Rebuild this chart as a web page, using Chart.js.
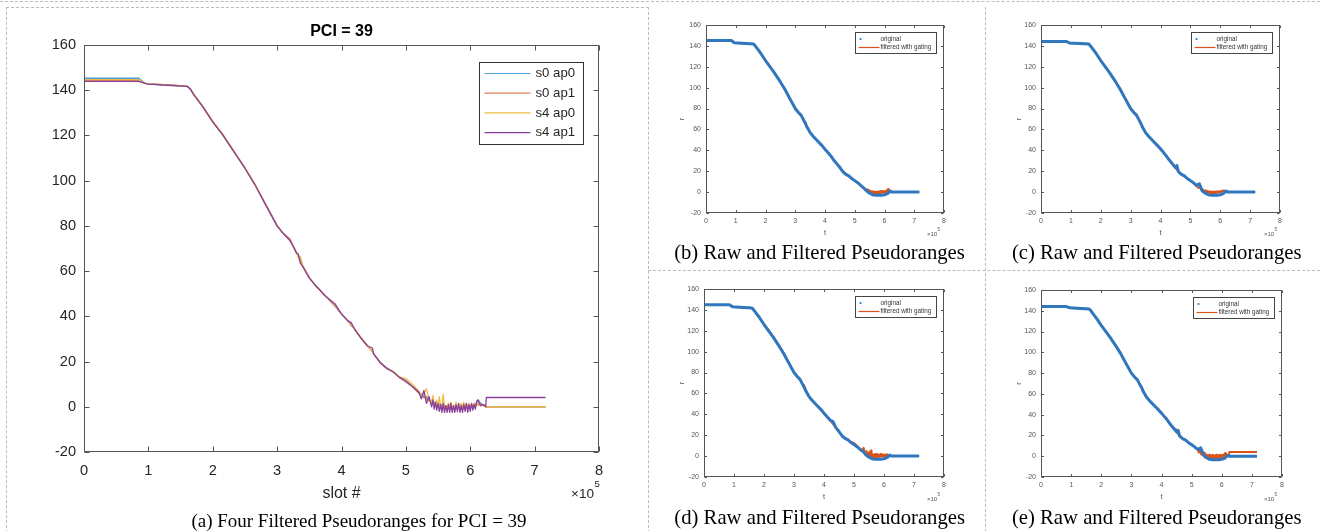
<!DOCTYPE html>
<html>
<head>
<meta charset="utf-8">
<script src="https://cdn.jsdelivr.net/npm/chart.js@4.4.0/dist/chart.umd.min.js"></script>
<style>
  html, body { margin: 0; padding: 0; background: #fff; }
  #fig { position: relative; width: 1320px; height: 531px; overflow: hidden; }
  canvas { position: absolute; }
  .dash { position: absolute; border-style: dashed; border-color: #bcbcbc; border-width: 0; }
  .cap { position: absolute; font-family: "Liberation Serif", "Times New Roman", serif; line-height: 1; white-space: nowrap; color: #000; transform: translateX(-50%); }
  .exp { position: absolute; font-family: "Liberation Sans", Arial, sans-serif; line-height: 1; color: #262626; white-space: nowrap; }
</style>
</head>
<body>
<div id="fig">
  <div class="dash" style="left:0;top:1px;width:1320px;border-top-width:1px"></div>
  <div class="dash" style="left:6px;top:7px;width:641px;height:530px;border-width:1px 1px 0 1px"></div>
  <div class="dash" style="left:985px;top:7px;height:530px;border-left-width:1px"></div>
  <div class="dash" style="left:648px;top:270px;width:672px;border-top-width:1px"></div>

  <canvas id="chartA" width="648" height="531" style="left:0;top:0"></canvas>
  <canvas id="chartB" width="337" height="270" style="left:648px;top:0"></canvas>
  <canvas id="chartC" width="335" height="270" style="left:985px;top:0"></canvas>
  <canvas id="chartD" width="337" height="261" style="left:648px;top:270px"></canvas>
  <canvas id="chartE" width="335" height="261" style="left:985px;top:270px"></canvas>

  <span class="exp" style="left:571px;top:486.5px;font-size:13.5px">&times;10</span>
  <span class="exp" style="left:594.5px;top:478.5px;font-size:9.5px">5</span>
  <span class="exp" style="left:927px;top:231px;font-size:6px;color:#555">&times;10</span>
  <span class="exp" style="left:937.5px;top:227.5px;font-size:4.5px;color:#555">5</span>
  <span class="exp" style="left:1264px;top:231px;font-size:6px;color:#555">&times;10</span>
  <span class="exp" style="left:1274.5px;top:227.5px;font-size:4.5px;color:#555">5</span>
  <span class="exp" style="left:927px;top:496px;font-size:6px;color:#555">&times;10</span>
  <span class="exp" style="left:937.5px;top:492.5px;font-size:4.5px;color:#555">5</span>
  <span class="exp" style="left:1264px;top:496px;font-size:6px;color:#555">&times;10</span>
  <span class="exp" style="left:1274.5px;top:492.5px;font-size:4.5px;color:#555">5</span>

  <div class="cap" style="left:359px;top:510.6px;font-size:19px">(a) Four Filtered Pseudoranges for PCI = 39</div>
  <div class="cap" style="left:819.5px;top:241.7px;font-size:20.7px">(b) Raw and Filtered Pseudoranges</div>
  <div class="cap" style="left:1156.7px;top:241.7px;font-size:20.7px">(c) Raw and Filtered Pseudoranges</div>
  <div class="cap" style="left:819.7px;top:506.7px;font-size:20.7px">(d) Raw and Filtered Pseudoranges</div>
  <div class="cap" style="left:1156.7px;top:506.7px;font-size:20.7px">(e) Raw and Filtered Pseudoranges</div>
</div>

<script>
// slot numbers shared by the four filtered series
const slots = [0, 85000, 90000, 95000, 100000, 130000, 160000, 165000, 170000, 185000,
  200000, 215000, 230000, 250000, 265000, 280000, 300000, 310000, 320000, 325000,
  330000, 333000, 336000, 340000, 350000, 360000, 375000, 390000, 400000, 410000,
  415000, 420000, 430000, 440000, 448000, 450000, 460000, 470000, 480000, 490000,
  500000, 510000,
  520000, 524000, 528000, 532000, 536000, 540000,
  542000, 544000, 546000, 548000, 550000, 552000, 554000, 556000, 558000, 560000,
  562000, 564000, 566000, 568000, 570000, 572000, 574000, 576000, 578000, 580000,
  582000, 584000, 586000, 588000, 590000, 592000, 594000, 596000, 598000, 600000,
  602000, 604000, 606000, 608000, 610000, 612000, 614000, 616000,
  620000, 624000,
  625000, 717000];

const s0ap0 = [145.3, 145.3, 144.2, 143.1, 142.8, 142.3, 141.8, 140.6, 138.3, 132.5,
  126, 120.5, 114.1, 105.5, 98.5, 90.5, 80, 76.5, 73.5, 71,
  68, 66.5, 64.5, 62, 57, 53.5, 49, 44.5, 41, 38,
  36, 34.5, 30.5, 27, 24.5, 23.5, 19.8, 17.3, 15.5, 13,
  11, 9,
  6.5, 5.5, 4.5, 3.5, 3, 2,
  2.5, 1.5, 2, 1, 1.5, 0.5, 1, 0, 0.5, -0.5,
  0.5, -1, 0, -1, 0.5, -1, 0, -1, 0.5, -0.5,
  0.5, -1, 1, -0.5, 0.5, -0.5, 1, 0, 0.5, -0.5,
  1, 0, 1.5, 0.5, 2, 3, 2.5, 1.5,
  1, 0,
  0, 0];

const s0ap1 = [144.2, 144.2, 143.6, 143.0, 142.8, 142.3, 141.8, 140.6, 138.3, 132.5,
  126, 120.5, 114.1, 105.5, 98.5, 90.5, 80, 76.5, 74.3, 71,
  68.5, 66.5, 64.5, 62, 57, 53.5, 49, 44.5, 41, 38,
  36, 34.5, 30.5, 27, 24.5, 23.5, 19.5, 17, 15.5, 13,
  11, 9,
  6, 5, 4, 4.5, 2.5, 2.5,
  2, 1.5, 1.5, 1, 1.5, 0.5, 1, 0, 1, -0.5,
  0.5, -0.5, 0.5, -1, 0, -1, 0.5, -1, 0, -0.5,
  0.5, -1, 0.5, -0.5, 0.5, -0.5, 0.5, 0, 0.5, 0,
  1, 0.5, 1, 0.5, 1.5, 1, 1.5, 1,
  1, 0.5,
  0, 0];

const s4ap0 = [144.7, 144.7, 143.8, 143.0, 142.8, 142.3, 141.8, 140.8, 138.5, 132.8,
  126.3, 120.8, 114.4, 105.8, 98.8, 90.8, 80.2, 76.5, 73.5, 71,
  68, 66, 66.5, 62.5, 57.2, 53.5, 49, 45.2, 41, 38.2,
  36.3, 34.5, 30.8, 27.3, 24.5, 23.5, 19.5, 17, 15.8, 13.2,
  12.5, 10,
  7, 5, 6, 8, 3, 2,
  5, 1, 0.5, 3, 0, 4.5, -0.5, 1, 5.5, -0.5,
  0.5, -1, 1.5, 0, 2, -1, 0.5, -0.5, 2, -1,
  1, -0.5, 1.5, 0, 2, -0.5, 1, 0, 1.5, -0.5,
  1, 0.5, 1.5, 0, 1.5, 0.5, 1, 0.5,
  0.5, 0,
  0, 0];

const s4ap1 = [143.9, 143.9, 143.5, 143.0, 142.7, 142.2, 141.7, 140.6, 138.3, 132.5,
  126, 120.5, 114.1, 105.5, 98.5, 90.5, 80, 76.5, 73.5, 71,
  68, 67.5, 63.5, 62, 57, 53.5, 49, 45.5, 41, 38,
  37.2, 34.5, 30.5, 27, 26, 23.3, 19.5, 17, 15.5, 13,
  11.5, 9,
  6.5, 3.5, 7.2, 1.5, 4.5, 0,
  3, -1, 2, -1.5, 1.5, -2, 1, -2.5, 1.5, -2.5,
  0.5, -2.5, 1, -2.5, 1.5, -2.5, 0.5, -2.5, 1, -2.2,
  1.5, -2.5, 0.5, -2.5, 1, -2, 1.5, -2.5, 1, -2,
  1.5, -1.5, 1, -1, 2.5, 3, 1.5, 0.5,
  1, 0,
  4.1, 4.1];

// raw pseudoranges for panels (b)-(e)
const rawSlots = [0, 85000, 95000, 160000, 170000, 185000, 200000, 230000, 250000, 265000,
  280000, 300000, 310000, 320000, 330000, 335000, 340000, 350000, 360000, 375000,
  390000, 400000, 420000, 430000, 440000, 450000, 455000, 460000, 470000, 480000,
  490000, 500000, 510000, 520000, 530000, 540000, 550000, 560000, 570000, 580000,
  590000, 600000, 610000, 620000, 625000, 717000];
const rawB = [145.2, 145.2, 143, 141.8, 138.3, 132.5, 126, 114.1, 105.5, 98.5,
  90.5, 80, 76.5, 73.5, 68, 65, 62, 57, 53.5, 49,
  44.5, 41, 34.5, 30.5, 27, 23.5, 21.5, 19.5, 17, 15.5,
  13, 11, 9, 6.5, 4, 1, -1, -2.5, -3, -3,
  -3, -2.5, -1.5, 1, 0, 0];
const rawC = [144.2, 144.2, 142.8, 141.8, 138.3, 132.5, 126, 114.1, 105.5, 98.5,
  90.5, 80, 76.5, 73.5, 68, 65.5, 62, 57, 53.5, 49,
  44.5, 41.5, 34.5, 30.5, 27, 23.5, 25.5, 19.5, 17, 15.5,
  13, 11, 9, 6.5, 8, 1, -1, -2.5, -3, -3,
  -3, -2.5, -1.5, 1, 0, 0];
const rawD = [145, 145, 143, 141.8, 138.3, 132.5, 126, 114.1, 105.5, 98.5,
  90.5, 80, 76.5, 73.5, 68, 65, 62, 57, 53.5, 49,
  44.5, 41, 34.5, 33, 27, 23.5, 21.5, 19.5, 17, 15.5,
  13, 11, 9, 6.5, 4.5, 1, -1, -2.5, -3, -3,
  -3, -2.5, -1.5, 1, 0, 0];
const rawE = [144, 144, 142.8, 141.8, 138.3, 132.5, 126, 114.1, 105.5, 98.5,
  90.5, 80, 76.5, 73.5, 68, 65.5, 62, 57, 53.5, 49,
  44.5, 41.5, 34.5, 30.5, 27, 23.5, 25, 19.5, 17, 15.5,
  13, 11, 9, 6.5, 8, 1, -1.5, -3, -3.5, -3.5,
  -3.5, -3, -2, 1, 0, 0];

const xTicks = [0, 1, 2, 3, 4, 5, 6, 7, 8];          // ×10^5
const yTicks = [-20, 0, 20, 40, 60, 80, 100, 120, 140, 160];

const SANS = '"Liberation Sans", Arial, sans-serif';

function pts(xs, ys) {
  return xs.map((x, i) => ({ x: x, y: ys[i] }));
}

// box around the axes with inward ticks on all four sides
const matlabAxes = {
  id: 'matlabAxes',
  afterDatasetsDraw(chart, args, opts) {
    const { ctx, chartArea: a, scales } = chart;
    const L = Math.round(a.left) + 0.5, R = Math.round(a.right) - 0.5;
    const T = Math.round(a.top) + 0.5, B = Math.round(a.bottom) - 0.5;
    ctx.save();
    ctx.strokeStyle = opts.color;
    ctx.lineWidth = 1;
    ctx.strokeRect(L, T, R - L, B - T);
    ctx.beginPath();
    scales.x.ticks.forEach((t) => {
      const px = Math.round(scales.x.getPixelForValue(t.value)) + 0.5;
      ctx.moveTo(px, B); ctx.lineTo(px, B - opts.len);
      ctx.moveTo(px, T); ctx.lineTo(px, T + opts.len);
    });
    scales.y.ticks.forEach((t) => {
      const py = Math.round(scales.y.getPixelForValue(t.value)) + 0.5;
      ctx.moveTo(L, py); ctx.lineTo(L + opts.len, py);
      ctx.moveTo(R, py); ctx.lineTo(R - opts.len, py);
    });
    ctx.stroke();
    ctx.restore();
  }
};

// boxed legend in the upper right corner of the axes
const boxLegend = {
  id: 'boxLegend',
  afterDraw(chart, args, o) {
    const { ctx, chartArea: a } = chart;
    const x0 = Math.round(a.right - o.right - o.width) + 0.5;
    const y0 = Math.round(a.top + o.top) + 0.5;
    ctx.save();
    ctx.fillStyle = '#fff';
    ctx.fillRect(x0, y0, o.width, o.height);
    ctx.strokeStyle = o.border;
    ctx.lineWidth = 1;
    ctx.strokeRect(x0, y0, o.width, o.height);
    ctx.font = o.font;
    ctx.textBaseline = 'middle';
    o.markers.forEach((m, i) => {
      const ds = chart.data.datasets[o.order[i]];
      const y = y0 + o.firstRow + i * o.rowGap;
      if (m === 'dot') {
        ctx.fillStyle = ds.borderColor;
        ctx.beginPath();
        ctx.arc(x0 + o.dotX, y, o.dotR, 0, Math.PI * 2);
        ctx.fill();
      } else {
        ctx.strokeStyle = ds.borderColor;
        ctx.lineWidth = o.lineW;
        ctx.beginPath();
        ctx.moveTo(x0 + o.lineFrom, y);
        ctx.lineTo(x0 + o.lineTo, y);
        ctx.stroke();
      }
      ctx.fillStyle = o.textColor;
      ctx.fillText(ds.label, x0 + o.textX, y);
    });
    ctx.restore();
  }
};

function axes(g) {
  return {
    x: {
      type: 'linear', min: 0, max: 800000,
      afterFit: (s) => { s.height = g.xh; },
      afterBuildTicks: (s) => { s.ticks = xTicks.map((v) => ({ value: v * 100000 })); },
      ticks: { callback: (v) => v / 100000, padding: g.xpad, color: g.tc, maxRotation: 0, autoSkip: false, font: { family: SANS, size: g.fs } },
      grid: { display: false, drawTicks: false },
      border: { display: false },
      title: { display: true, text: g.xt, color: g.tc, font: { family: SANS, size: g.ts }, padding: { top: 0, bottom: g.xtpad } }
    },
    y: {
      type: 'linear', min: -20, max: 160,
      afterFit: (s) => { s.width = g.yw; },
      afterBuildTicks: (s) => { s.ticks = yTicks.map((v) => ({ value: v })); },
      ticks: { padding: g.ypad, color: g.tc, font: { family: SANS, size: g.fs } },
      grid: { display: false, drawTicks: false },
      border: { display: false },
      title: { display: !!g.yt, text: g.yt, color: g.tc, font: { family: SANS, size: g.ts }, padding: { top: g.ytpad, bottom: 0 } }
    }
  };
}

// (a) four filtered pseudoranges
new Chart(document.getElementById('chartA'), {
  type: 'line',
  data: {
    datasets: [
      { label: 's0 ap0', data: pts(slots, s0ap0), borderColor: '#4c9fd6', borderWidth: 1.3, order: 3 },
      { label: 's0 ap1', data: pts(slots, s0ap1), borderColor: '#e2805a', borderWidth: 1.3, order: 2 },
      { label: 's4 ap0', data: pts(slots, s4ap0), borderColor: '#efbb45', borderWidth: 1.3, order: 1 },
      { label: 's4 ap1', data: pts(slots, s4ap1), borderColor: '#8a3f9c', borderWidth: 1.3, order: 0 }
    ]
  },
  options: {
    animation: false, responsive: false, devicePixelRatio: 1, events: [],
    layout: { padding: { left: 0, top: 0, right: 49, bottom: 19 } },
    elements: { point: { radius: 0 }, line: { tension: 0, borderJoinStyle: 'round' } },
    scales: axes({ xh: 60, yw: 84, xpad: 10, ypad: 8, fs: 14.6, ts: 16, tc: '#262626', xt: 'slot #', xtpad: 8.4 }),
    plugins: {
      legend: { display: false },
      tooltip: { enabled: false },
      title: { display: true, text: 'PCI = 39', fullSize: false, color: '#000', font: { family: SANS, size: 16, weight: 'bold' }, padding: { top: 22, bottom: 3.8 } },
      matlabAxes: { color: '#555', len: 5 },
      boxLegend: {
        right: 16, top: 17, width: 104, height: 82, firstRow: 11, rowGap: 19.7,
        lineFrom: 5, lineTo: 51, lineW: 1.2, textX: 56, font: '13.2px ' + SANS,
        border: '#333', textColor: '#262626',
        markers: ['line', 'line', 'line', 'line'], order: [0, 1, 2, 3]
      }
    }
  },
  plugins: [matlabAxes, boxLegend]
});

// (b)-(e) raw and filtered pseudoranges
function smallChart(id, raw, filt, pad, yw) {
  return new Chart(document.getElementById(id), {
    type: 'line',
    data: {
      datasets: [
        { label: 'original', data: pts(rawSlots, raw), borderColor: '#2f78bf', borderWidth: 3, order: 0 },
        { label: 'filtered with gating', data: pts(slots, filt), borderColor: '#d95319', borderWidth: 2, order: 1 }
      ]
    },
    options: {
      animation: false, responsive: false, devicePixelRatio: 1, events: [],
      layout: { padding: pad },
      elements: { point: { radius: 0 }, line: { tension: 0, borderJoinStyle: 'round' } },
      scales: axes({ xh: 30, yw: yw, xpad: 3.5, ypad: 5, fs: 7, ts: 7.5, tc: '#555', xt: 't', xtpad: 5.8, yt: 'r', ytpad: 29 }),
      plugins: {
        legend: { display: false },
        tooltip: { enabled: false },
        matlabAxes: { color: '#555', len: 2.5 },
        boxLegend: {
          right: 8, top: 7, width: 81, height: 21, firstRow: 6.5, rowGap: 8.5,
          dotX: 5, dotR: 1.1, lineFrom: 3, lineTo: 24, lineW: 1.2, textX: 25, font: '6.3px ' + SANS,
          border: '#444', textColor: '#333',
          markers: ['dot', 'line'], order: [0, 1]
        }
      }
    },
    plugins: [matlabAxes, boxLegend]
  });
}

smallChart('chartB', rawB, s0ap0, { left: 0, top: 25, right: 41, bottom: 27 }, 58);
smallChart('chartC', rawC, s0ap1, { left: 0, top: 25, right: 40, bottom: 27 }, 56);
smallChart('chartD', rawD, s4ap0, { left: 0, top: 19, right: 41, bottom: 24 }, 56);
smallChart('chartE', rawE, s4ap1, { left: 0, top: 20, right: 38, bottom: 24 }, 56);
</script>
</body>
</html>
